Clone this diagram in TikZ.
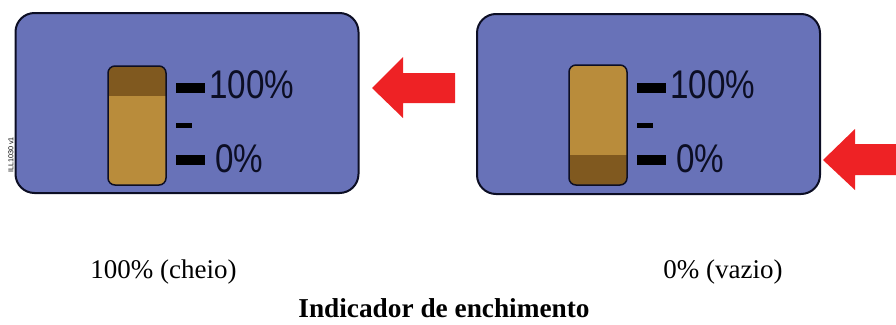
\documentclass[tikz,border=0pt]{standalone}
\usepackage{fontspec}
\setmainfont{Liberation Serif}
\newfontfamily\gaugefont{Liberation Sans}
\definecolor{panelblue}{HTML}{6872B8}
\definecolor{gaugelight}{HTML}{B98C3B}
\definecolor{gaugedark}{HTML}{80591F}
\definecolor{inkdark}{HTML}{0C0E24}
\definecolor{arrowred}{HTML}{EE2225}
\tikzset{
  panelbox/.style={draw=inkdark,line width=2pt,fill=panelblue,rounded corners=19pt},
  gaugeoutline/.style={draw=inkdark,line width=1.5pt,rounded corners=7pt},
  tickmark/.style={fill=black,draw=none},
  bigtext/.style={font=\gaugefont\fontsize{40}{40}\selectfont,text=inkdark,inner sep=0pt,anchor=base west,xscale=.83},
  captiontext/.style={font=\fontsize{27}{29}\selectfont,inner sep=0pt,anchor=base},
  redarrow/.style={fill=arrowred,draw=none}
}
\begin{document}
\begin{tikzpicture}[x=1pt,y=-1pt]
\useasboundingbox (0,0) rectangle (896,324);
% left panel
\draw[panelbox] (15.5,13) rectangle (358.5,193);
\begin{scope}
\clip[rounded corners=7pt] (108,66) rectangle (166,185);
\fill[gaugelight] (108,66) rectangle (166,185);
\fill[gaugedark] (108,66) rectangle (166,96);
\end{scope}
\draw[gaugeoutline] (108,66) rectangle (166,185);
\fill[tickmark] (176,83) rectangle (205,93);
\fill[tickmark] (176,123) rectangle (192,128);
\fill[tickmark] (176,155) rectangle (205,165);
\node[bigtext] (lefthundred) at (209,98) {100\%};
\node[bigtext] (leftzero) at (215,172) {0\%};
\node[rotate=90,font=\gaugefont\fontsize{7.2}{8}\selectfont,text=black,inner sep=0pt] (illcode) at (11,155) {ILL1030 v1};
\fill[redarrow] (372,88) -- (403,57) -- (403,73) -- (455,73) -- (455,103) -- (403,103) -- (403,118) -- cycle;
% right panel
\draw[panelbox] (477,14) rectangle (820,194);
\begin{scope}
\clip[rounded corners=7pt] (569,65) rectangle (627,185);
\fill[gaugelight] (569,65) rectangle (627,185);
\fill[gaugedark] (569,155) rectangle (627,185);
\end{scope}
\draw[gaugeoutline] (569,65) rectangle (627,185);
\fill[tickmark] (637,83) rectangle (666,93);
\fill[tickmark] (637,123) rectangle (653,128);
\fill[tickmark] (637,155) rectangle (666,165);
\node[bigtext] (righthundred) at (670,98) {100\%};
\node[bigtext] (rightzero) at (676,172) {0\%};
\fill[redarrow] (823,160) -- (855,129) -- (855,144) -- (896,144) -- (896,175) -- (855,175) -- (855,190) -- cycle;
% captions
\node[captiontext] (capleft) at (163.5,278) {100\% (cheio)};
\node[captiontext] (capright) at (723,278) {0\% (vazio)};
\node[captiontext,font=\bfseries\fontsize{27.3}{29}\selectfont] (title) at (444,317.5) {Indicador de enchimento};
\end{tikzpicture}
\end{document}
